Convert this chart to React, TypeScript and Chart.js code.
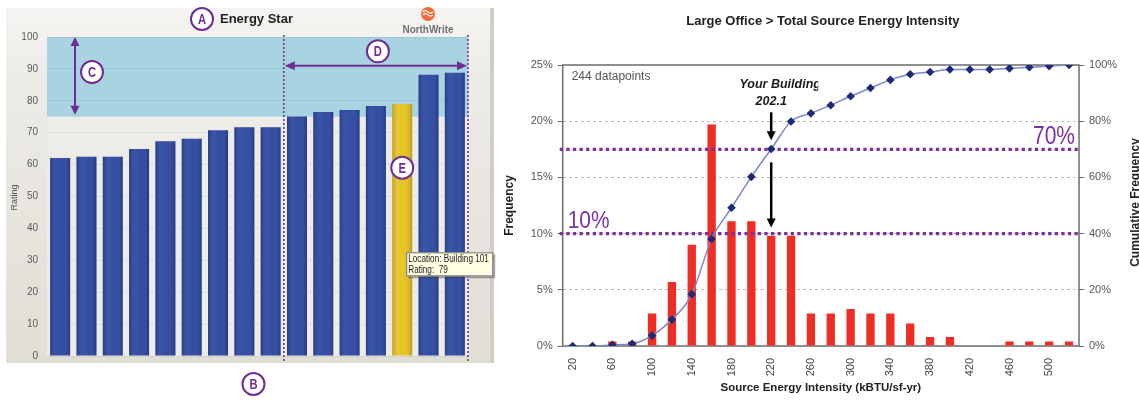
import React, { useEffect, useRef } from "react";
import { Chart, registerables } from "chart.js";

Chart.register(...registerables);
Chart.defaults.font.family = '"Liberation Sans", Arial, sans-serif';

// ---------------- Left chart: Energy Star ratings ----------------
const buildingNames = [
  "Building 103", "Building 115", "Building 109", "Building 112",
  "Building 106", "Building 118", "Building 104", "Building 111",
  "Building 116", "Building 107", "Building 113", "Building 102",
  "Building 110", "Building 101", "Building 105", "Building 117",
];
const energyStarRatings = [62.1, 62.5, 62.5, 64.9, 67.3, 68.1, 70.8, 71.7, 71.7, 75.1, 76.5, 77.1, 78.4, 79, 88.2, 88.8];
const highlightedBuilding = "Building 101";
const energyStarMin = 75;
const ratingMax = 100;
const qualifyingStartIndex = 9;

// ---------------- Right chart: Source Energy Intensity ----------------
const seiBins = ["20", "40", "60", "80", "100", "120", "140", "160", "180", "200", "220", "240", "260", "280", "300", "320", "340", "360", "380", "400", "420", "440", "460", "480", "500", "520"];
const seiTickLabels = ["20", "", "60", "", "100", "", "140", "", "180", "", "220", "", "260", "", "300", "", "340", "", "380", "", "420", "", "460", "", "500", ""];
const frequencyPct = [0, 0, 0.4, 0.4, 2.9, 5.7, 9.0, 19.7, 11.1, 11.1, 9.8, 9.8, 2.9, 2.9, 3.3, 2.9, 2.9, 2.0, 0.8, 0.8, 0, 0, 0.4, 0.4, 0.4, 0.4];
const cumulativePct = [0, 0, 0.4, 0.8, 3.7, 9.4, 18.4, 38.1, 49.2, 60.2, 70.1, 79.9, 82.8, 85.7, 88.9, 91.8, 94.7, 96.7, 97.5, 98.4, 98.4, 98.4, 98.8, 99.2, 99.6, 100];
const datapointsCount = 244;
const yourBuildingSei = "202.1";
const yourBuildingBin = "220";
const lowLinePct = 10;   // frequency axis
const highLinePct = 70;  // cumulative axis

const PURPLE = "#6f2c93";
const SANS = '"Liberation Sans", Arial, sans-serif';

function narrowText(ctx: CanvasRenderingContext2D, text: string, x: number, y: number, sx: number) {
  ctx.save();
  ctx.translate(x, y);
  ctx.scale(sx, 1);
  ctx.fillText(text, 0, 0);
  ctx.restore();
}

function arrowHead(ctx: CanvasRenderingContext2D, x: number, y: number, angle: number, len: number, halfW: number, color: string) {
  ctx.save();
  ctx.translate(x, y);
  ctx.rotate(angle);
  ctx.beginPath();
  ctx.moveTo(0, 0);
  ctx.lineTo(-len, -halfW);
  ctx.lineTo(-len, halfW);
  ctx.closePath();
  ctx.fillStyle = color;
  ctx.fill();
  ctx.restore();
}

function circleLabel(ctx: CanvasRenderingContext2D, x: number, y: number, letter: string) {
  ctx.save();
  ctx.beginPath();
  ctx.arc(x, y, 11, 0, Math.PI * 2);
  ctx.fillStyle = "#ffffff";
  ctx.fill();
  ctx.lineWidth = 2;
  ctx.strokeStyle = PURPLE;
  ctx.stroke();
  ctx.font = "bold 14px " + SANS;
  ctx.fillStyle = PURPLE;
  ctx.textAlign = "center";
  ctx.textBaseline = "middle";
  narrowText(ctx, letter, x, y + 1, 0.8);
  ctx.restore();
}

const leftDecor = {
  id: "leftDecor",
  beforeDraw(chart: any) {
    const { ctx, chartArea: ca, scales } = chart;
    const y = scales.y;
    ctx.save();
    ctx.fillStyle = "#ffffff";
    ctx.fillRect(0, 0, chart.width, chart.height);
    const g = ctx.createLinearGradient(0, 8, 0, 363);
    g.addColorStop(0, "#f6f5f3");
    g.addColorStop(0.2, "#edebe6");
    g.addColorStop(1, "#e1ded6");
    ctx.fillStyle = g;
    ctx.fillRect(6, 8, 488, 355);
    ctx.fillStyle = "#d0cdc6";
    ctx.fillRect(490, 8, 4, 355);
    ctx.fillStyle = "#eeece7";
    ctx.fillRect(ca.left, ca.top, ca.right - ca.left, ca.bottom - ca.top);
    const yTop = y.getPixelForValue(ratingMax);
    const yBand = y.getPixelForValue(energyStarMin);
    ctx.fillStyle = "#a8d4e1";
    ctx.fillRect(ca.left, yTop, ca.right - ca.left, yBand - yTop);
    ctx.restore();
  },
  afterDatasetsDraw(chart: any) {
    const { ctx, chartArea: ca, scales } = chart;
    const x = scales.x;
    const y = scales.y;
    const meta = chart.getDatasetMeta(0);
    ctx.save();
    // bar shading
    meta.data.forEach((bar: any) => {
      const p = bar.getProps(["x", "y", "base", "width"], true);
      const gr = ctx.createLinearGradient(p.x - p.width / 2, 0, p.x + p.width / 2, 0);
      gr.addColorStop(0, "rgba(0,0,40,0.18)");
      gr.addColorStop(0.3, "rgba(255,255,255,0.07)");
      gr.addColorStop(0.6, "rgba(255,255,255,0.03)");
      gr.addColorStop(1, "rgba(0,0,40,0.2)");
      ctx.fillStyle = gr;
      ctx.fillRect(p.x - p.width / 2, p.y, p.width, p.base - p.y);
    });

    // dotted vertical lines
    const xSplit = (x.getPixelForValue(qualifyingStartIndex - 1) + x.getPixelForValue(qualifyingStartIndex)) / 2;
    const xEnd = ca.right;
    ctx.strokeStyle = PURPLE;
    ctx.lineWidth = 1.5;
    ctx.setLineDash([2, 2]);
    [xSplit, xEnd].forEach((xx) => {
      ctx.beginPath();
      ctx.moveTo(xx, ca.top - 2);
      ctx.lineTo(xx, 363);
      ctx.stroke();
    });
    ctx.setLineDash([]);

    // arrow C (vertical)
    const yTop = y.getPixelForValue(ratingMax);
    const yBand = y.getPixelForValue(energyStarMin);
    const cx = ca.left + 28;
    ctx.lineWidth = 2;
    ctx.beginPath();
    ctx.moveTo(cx, yTop + 6);
    ctx.lineTo(cx, yBand - 8);
    ctx.stroke();
    arrowHead(ctx, cx, yTop, -Math.PI / 2, 9, 4.5, PURPLE);
    arrowHead(ctx, cx, yBand - 2, Math.PI / 2, 9, 4.5, PURPLE);

    // arrow D (horizontal)
    const dy = y.getPixelForValue(91);
    ctx.beginPath();
    ctx.moveTo(xSplit + 6, dy);
    ctx.lineTo(xEnd - 6, dy);
    ctx.stroke();
    arrowHead(ctx, xSplit + 1, dy, Math.PI, 10, 4.5, PURPLE);
    arrowHead(ctx, xEnd - 1, dy, 0, 10, 4.5, PURPLE);

    // title
    ctx.fillStyle = "#222222";
    ctx.font = "bold 13px " + SANS;
    ctx.textAlign = "left";
    ctx.textBaseline = "middle";
    ctx.fillText("Energy Star", 220, 19);

    // NorthWrite logo
    ctx.beginPath();
    ctx.arc(428, 14, 7, 0, Math.PI * 2);
    ctx.fillStyle = "#f26b3a";
    ctx.fill();
    ctx.strokeStyle = "#ffffff";
    ctx.lineWidth = 1.2;
    [-2.2, 0.8].forEach((o) => {
      ctx.beginPath();
      ctx.moveTo(423, 14 + o);
      ctx.quadraticCurveTo(425.5, 11.5 + o, 428, 14 + o);
      ctx.quadraticCurveTo(430.5, 16.5 + o, 433, 14 + o);
      ctx.stroke();
    });
    ctx.fillStyle = "#707070";
    ctx.font = "bold 11px " + SANS;
    ctx.textAlign = "center";
    narrowText(ctx, "NorthWrite", 428, 30, 0.9);

    // Rating axis title
    ctx.save();
    ctx.translate(15, (ca.top + ca.bottom) / 2 + 1);
    ctx.rotate(-Math.PI / 2);
    ctx.fillStyle = "#555555";
    ctx.font = "9px " + SANS;
    ctx.textAlign = "center";
    ctx.textBaseline = "middle";
    ctx.fillText("Rating", 0, 0);
    ctx.restore();

    // tooltip
    const hiIdx = buildingNames.indexOf(highlightedBuilding);
    const hiBar = meta.data[hiIdx].getProps(["x", "width"], true);
    const tx = hiBar.x + hiBar.width / 2 - 6;
    const ty = y.getPixelForValue(32.5);
    const tw = 87, th = 24;
    ctx.fillStyle = "rgba(60,60,60,0.45)";
    ctx.fillRect(tx + 2, ty + 2, tw, th);
    ctx.fillStyle = "#ffffe3";
    ctx.fillRect(tx, ty, tw, th);
    ctx.strokeStyle = "#6d6d6d";
    ctx.lineWidth = 1;
    ctx.strokeRect(tx + 0.5, ty + 0.5, tw - 1, th - 1);
    ctx.fillStyle = "#222222";
    ctx.font = "10px " + SANS;
    ctx.textAlign = "left";
    ctx.textBaseline = "middle";
    narrowText(ctx, "Location: " + highlightedBuilding, tx + 2, ty + 7, 0.82);
    narrowText(ctx, "Rating:  " + energyStarRatings[hiIdx], tx + 2, ty + 18, 0.82);

    // circle labels
    circleLabel(ctx, 202, 19, "A");
    circleLabel(ctx, (ca.left + ca.right) / 2 - 4, 384, "B");
    circleLabel(ctx, cx + 17, y.getPixelForValue(89), "C");
    circleLabel(ctx, (xSplit + xEnd) / 2 + 2, y.getPixelForValue(95.5), "D");
    circleLabel(ctx, hiBar.x, y.getPixelForValue(59), "E");
    ctx.restore();
  },
};

const rightDecor = {
  id: "rightDecor",
  beforeDatasetsDraw(chart: any) {
    const { ctx, chartArea: ca } = chart;
    ctx.save();
    ctx.strokeStyle = "#6b6b6b";
    ctx.lineWidth = 1.5;
    ctx.strokeRect(ca.left, ca.top, ca.right - ca.left, ca.bottom - ca.top);
    ctx.restore();
  },
  afterDatasetDraw(chart: any, args: any) {
    if (args.index !== 0) return;
    const { ctx, chartArea: ca, scales } = chart;
    const yLow = scales.y.getPixelForValue(lowLinePct);
    const yHigh = scales.y1.getPixelForValue(highLinePct);
    ctx.save();
    ctx.strokeStyle = "#7b2fa3";
    ctx.lineWidth = 3.2;
    ctx.setLineDash([3.3, 3.3]);
    [yLow, yHigh].forEach((yy) => {
      ctx.beginPath();
      ctx.moveTo(ca.left - 3, yy);
      ctx.lineTo(ca.right, yy);
      ctx.stroke();
    });
    ctx.restore();
  },
  afterDraw(chart: any) {
    const { ctx, chartArea: ca, scales } = chart;
    const yLow = scales.y.getPixelForValue(lowLinePct);
    const yHigh = scales.y1.getPixelForValue(highLinePct);
    const bx = scales.x.getPixelForValue(seiBins.indexOf(yourBuildingBin));
    ctx.save();

    // big percentage labels
    ctx.fillStyle = "#7b2fa3";
    ctx.font = "24px " + SANS;
    ctx.textBaseline = "alphabetic";
    ctx.textAlign = "left";
    narrowText(ctx, "10%", ca.left + 5, yLow - 6, 0.87);
    ctx.font = "25px " + SANS;
    ctx.textAlign = "right";
    narrowText(ctx, "70%", ca.right - 4, yHigh - 5, 0.84);

    // datapoints
    ctx.fillStyle = "#555555";
    ctx.font = "12px " + SANS;
    ctx.textAlign = "left";
    ctx.textBaseline = "middle";
    ctx.fillText(datapointsCount + " datapoints", ca.left + 9, ca.top + 12);

    // your building
    ctx.fillStyle = "#1a1a1a";
    ctx.font = "italic bold 12.5px " + SANS;
    ctx.save();
    ctx.beginPath();
    ctx.rect(0, 70, bx + 47, 30);
    ctx.clip();
    ctx.textAlign = "center";
    ctx.fillText("Your Building", bx + 9, 85);
    ctx.restore();
    ctx.textAlign = "center";
    ctx.fillText(yourBuildingSei, bx, 102);

    // arrows
    ctx.strokeStyle = "#000000";
    ctx.lineWidth = 2.5;
    ctx.beginPath();
    ctx.moveTo(bx, yHigh - 37);
    ctx.lineTo(bx, yHigh - 16);
    ctx.stroke();
    arrowHead(ctx, bx, yHigh - 9, Math.PI / 2, 9, 4.5, "#000000");
    ctx.beginPath();
    ctx.moveTo(bx, yHigh + 13);
    ctx.lineTo(bx, yLow - 13);
    ctx.stroke();
    arrowHead(ctx, bx, yLow - 6, Math.PI / 2, 9, 4.5, "#000000");

    // titles
    ctx.fillStyle = "#222222";
    ctx.font = "bold 13px " + SANS;
    ctx.textAlign = "center";
    ctx.textBaseline = "middle";
    ctx.fillText("Large Office > Total Source Energy Intensity", (ca.left + ca.right) / 2 + 2, 21);
    ctx.font = "bold 11.5px " + SANS;
    ctx.fillText("Source Energy Intensity (kBTU/sf-yr)", (ca.left + ca.right) / 2, 388);

    const midY = (ca.top + ca.bottom) / 2;
    ctx.font = "bold 12px " + SANS;
    ctx.save();
    ctx.translate(10, midY);
    ctx.rotate(-Math.PI / 2);
    ctx.fillText("Frequency", 0, 0);
    ctx.restore();
    ctx.save();
    ctx.translate(636, midY - 3);
    ctx.rotate(-Math.PI / 2);
    ctx.fillText("Cumulative Frequency", 0, 0);
    ctx.restore();

    ctx.restore();
  },
};

export default function App() {
  const leftRef = useRef<HTMLCanvasElement>(null);
  const rightRef = useRef<HTMLCanvasElement>(null);

  useEffect(() => {
    const left = new Chart(leftRef.current as HTMLCanvasElement, {
      type: "bar",
      data: {
        labels: buildingNames,
        datasets: [
          {
            data: energyStarRatings,
            backgroundColor: buildingNames.map((n) => (n === highlightedBuilding ? "#e6c31f" : "#2b479f")),
            borderWidth: 0,
            barPercentage: 0.76,
            categoryPercentage: 1,
          },
        ],
      },
      options: {
        responsive: false,
        animation: false,
        layout: { padding: { left: 0, top: 37, right: 32, bottom: 44 } },
        plugins: { legend: { display: false }, tooltip: { enabled: false }, title: { display: false } },
        scales: {
          x: { display: false },
          y: {
            min: 0,
            max: ratingMax,
            ticks: { stepSize: 10, color: "#5a5a5a", font: { size: 10 }, padding: 9 },
            grid: { color: "rgba(0,0,0,0.06)", drawTicks: false },
            border: { display: false },
            afterFit: (s: any) => {
              s.width = 47;
            },
          },
        },
      } as any,
      plugins: [leftDecor],
    });

    const right = new Chart(rightRef.current as HTMLCanvasElement, {
      type: "bar",
      data: {
        labels: seiBins,
        datasets: [
          {
            type: "bar",
            data: frequencyPct,
            yAxisID: "y",
            order: 2,
            backgroundColor: "#ee2e24",
            borderWidth: 0,
            barPercentage: 0.42,
            categoryPercentage: 1,
          },
          {
            type: "line",
            data: cumulativePct,
            yAxisID: "y1",
            order: 1,
            borderColor: "#7d87cc",
            borderWidth: 1.5,
            cubicInterpolationMode: "monotone",
            pointStyle: "rectRot",
            pointRadius: 4.3,
            pointBackgroundColor: "#1d2a77",
            pointBorderColor: "#1d2a77",
            pointBorderWidth: 0,
          },
        ] as any,
      },
      options: {
        responsive: false,
        animation: false,
        layout: { padding: { left: 0, top: 65, right: 0, bottom: 0 } },
        plugins: { legend: { display: false }, tooltip: { enabled: false }, title: { display: false } },
        scales: {
          x: {
            ticks: {
              autoSkip: false,
              minRotation: 90,
              maxRotation: 90,
              color: "#444444",
              font: { size: 11 },
              padding: 4,
              callback: (_v: any, i: number) => seiTickLabels[i],
            },
            grid: { display: false },
            border: { display: false },
            afterFit: (s: any) => {
              s.height = 54;
            },
          },
          y: {
            position: "left",
            min: 0,
            max: 25,
            ticks: { stepSize: 5, color: "#555555", font: { size: 11 }, padding: 5, callback: (v: any) => v + "%" },
            grid: {
              color: (c: any) => (c.tick && (c.tick.value === 0 || c.tick.value === 25) ? "rgba(0,0,0,0)" : "#bdbdbd"),
              tickColor: "#6b6b6b",
              tickLength: 5,
              tickBorderDash: [],
            },
            border: { display: false, dash: [3, 3] },
            afterFit: (s: any) => {
              s.width = 62.7;
            },
          },
          y1: {
            position: "right",
            min: 0,
            max: 100,
            ticks: { stepSize: 20, color: "#555555", font: { size: 11 }, padding: 5, callback: (v: any) => v + "%" },
            grid: { drawOnChartArea: false, color: "#6b6b6b", tickLength: 5 },
            border: { display: false },
            afterFit: (s: any) => {
              s.width = 60;
            },
          },
        },
      } as any,
      plugins: [rightDecor],
    });

    return () => {
      left.destroy();
      right.destroy();
    };
  }, []);

  return (
    <div style={{ position: "absolute", left: 0, top: 0, width: 1139, height: 400, background: "#ffffff", overflow: "hidden" }}>
      <canvas ref={leftRef} width={500} height={400} style={{ position: "absolute", left: 0, top: 0, width: 500, height: 400 }} />
      <canvas ref={rightRef} width={639} height={400} style={{ position: "absolute", left: 500, top: 0, width: 639, height: 400 }} />
    </div>
  );
}
